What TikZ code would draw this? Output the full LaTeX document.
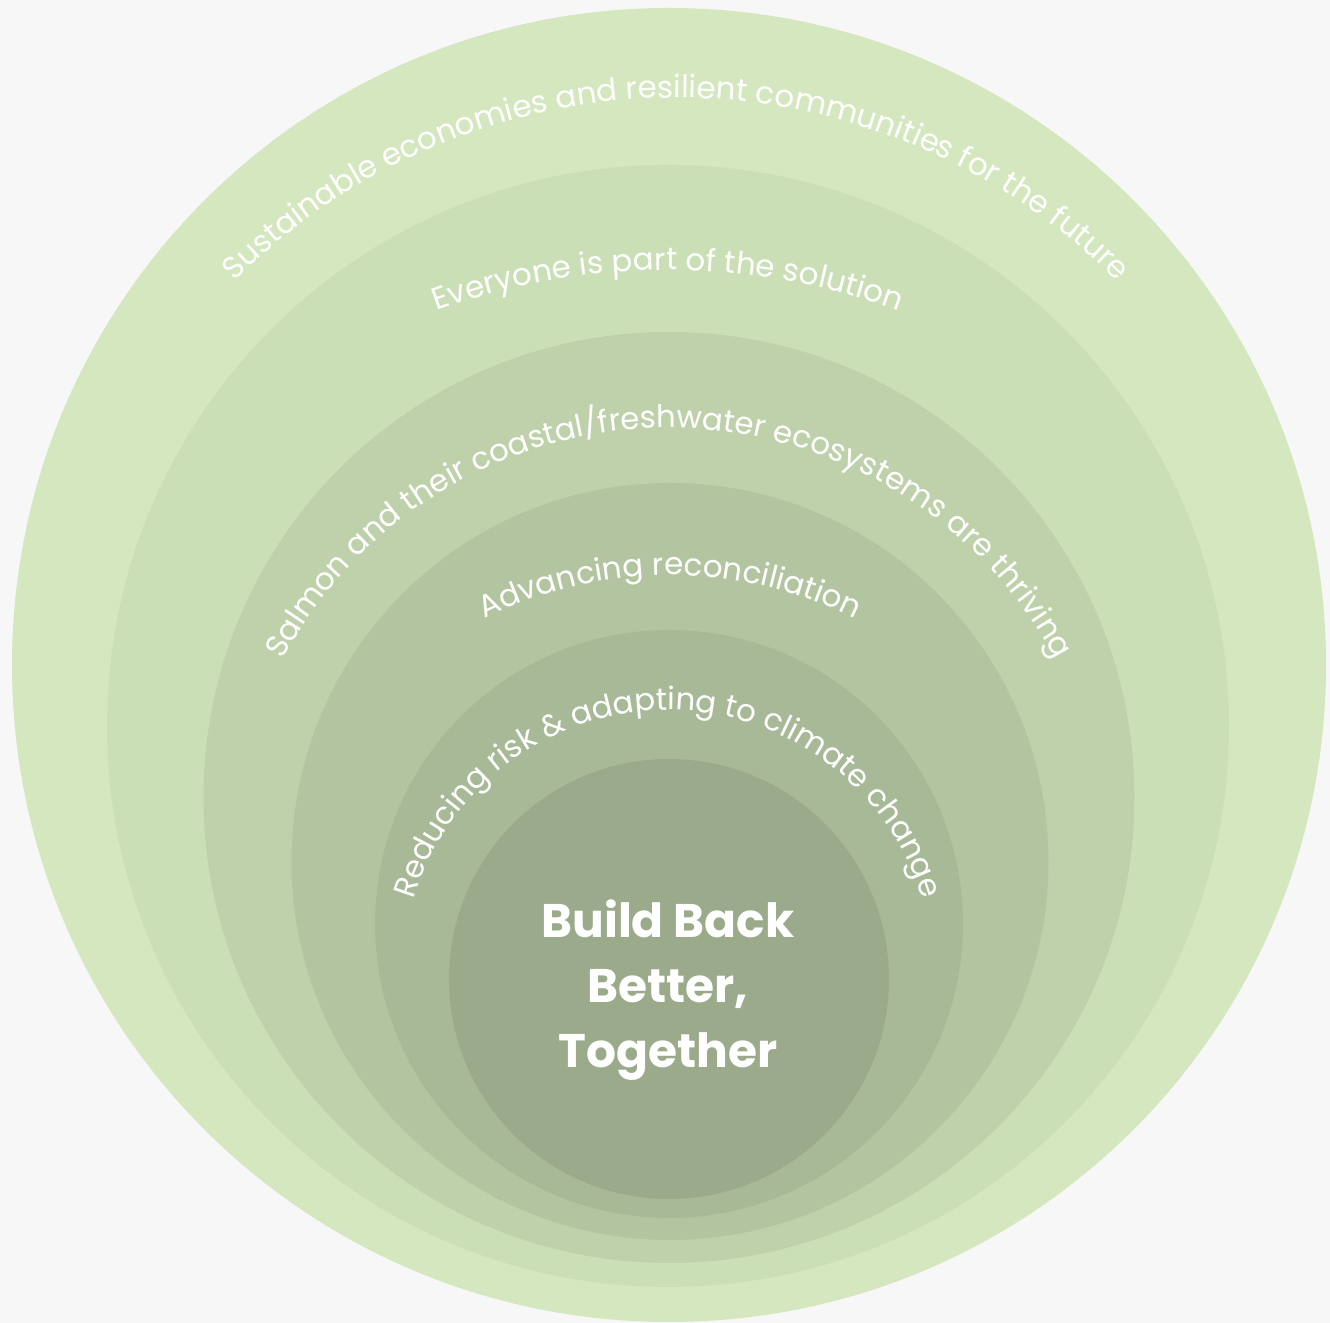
\documentclass[tikz,border=0pt]{standalone}
\usepackage{fontspec}
\setmainfont{Poppins}
\usepackage{tikz}
\usepackage{tkz-euclide}
\usetikzlibrary{calc,decorations.text}
\definecolor{paper}{HTML}{F7F7F7}
\definecolor{ringA}{HTML}{D4E7BE}
\definecolor{ringB}{HTML}{CBDFB6}
\definecolor{ringC}{HTML}{BED1AA}
\definecolor{ringD}{HTML}{B3C5A0}
\definecolor{ringE}{HTML}{A8B997}
\definecolor{ringF}{HTML}{9CAA8C}
\newcommand{\arcfont}{\fontsize{8.8}{10}\selectfont}
\tikzset{arctext/.style={decorate,decoration={text along path,text align=center,
      text color=white,text={|\arcfont|#1}}}}

\begin{document}
\begin{tikzpicture}[scale=1]
                \fill[paper] (0,0) rectangle (13.30,13.23);
                \useasboundingbox (0,0) rectangle (13.30,13.23);
                % centres and lowest points of the rings
                \tkzDefPoint(6.69,6.58){Oa} \tkzDefPoint(6.69,0.01){Ba}
                \tkzDefPoint(6.68,5.97){Ob} \tkzDefPoint(6.68,0.36){Bb}
                \tkzDefPoint(6.69,5.255){Oc} \tkzDefPoint(6.69,0.60){Bc}
                \tkzDefPoint(6.70,4.615){Od} \tkzDefPoint(6.70,0.83){Bd}
                \tkzDefPoint(6.69,3.99){Oe} \tkzDefPoint(6.69,1.05){Be}
                \tkzDefPoint(6.69,3.44){Of} \tkzDefPoint(6.69,1.24){Bf}
                \tkzFillCircle[fill=ringA](Oa,Ba)
                \tkzFillCircle[fill=ringB](Ob,Bb)
                \tkzFillCircle[fill=ringC](Oc,Bc)
                \tkzFillCircle[fill=ringD](Od,Bd)
                \tkzFillCircle[fill=ringE](Oe,Be)
                \tkzFillCircle[fill=ringF](Of,Bf)
                % centres of the text arcs
                \tkzDefPoint(6.76,6.03){Ta}
                \tkzDefPoint(6.68,3.83){Tb}
                \tkzDefPoint(6.69,4.57){Tc}
                \tkzDefPoint(6.70,3.33){Td}
                \tkzDefPoint(6.68,3.47){Te}
                \path[arctext={Sustainable economies and resilient communities for the future}]
                    ([shift={(155:6.22)}]Ta) arc[start angle=155,end angle=25,radius=6.22];
                \path[arctext={Everyone is part of the solution}]
                    ([shift={(130:6.70)}]Tb) arc[start angle=130,end angle=50,radius=6.70];
                \path[arctext={Salmon and their coastal/freshwater ecosystems are thriving}]
                    ([shift={(175:4.38)}]Tc) arc[start angle=175,end angle=5,radius=4.38];
                \path[arctext={Advancing reconciliation}]
                    ([shift={(140:4.15)}]Td) arc[start angle=140,end angle=40,radius=4.15];
                \path[arctext={Reducing risk {\&} adapting to climate change}]
                    ([shift={(190:2.66)}]Te) arc[start angle=190,end angle=-10,radius=2.66];
                %\tkzDrawPoints(Oa,Ob,Oc,Od,Oe,Of)
                \tkzDefPoint(6.68,3.33){Core}
                \node[align=center,text=white,font=\fontsize{13.4}{18.5}\selectfont\bfseries]
                    (core) at (Core) {Build Back\\Better,\\Together};
            \end{tikzpicture}
\end{document}
